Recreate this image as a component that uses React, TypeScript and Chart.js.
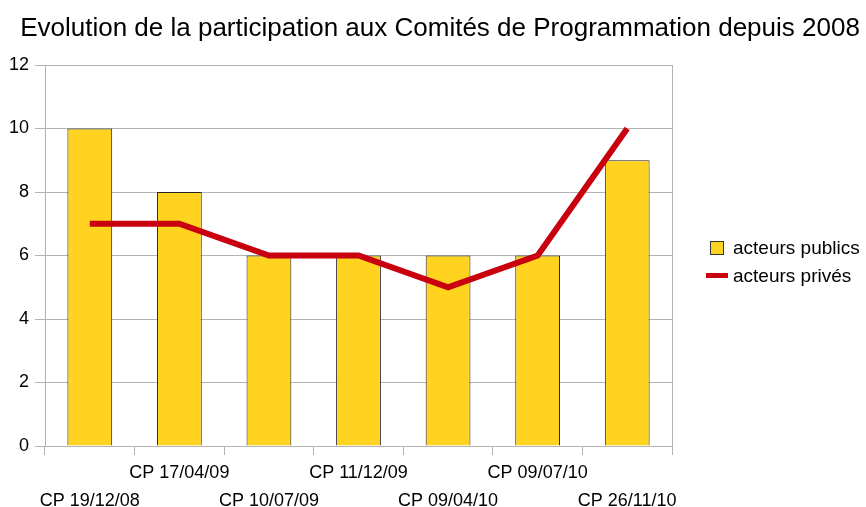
import React, { useEffect, useRef } from "react";
import { Chart, registerables } from "chart.js";

Chart.register(...registerables);

const TITLE = "Evolution de la participation aux Comités de Programmation depuis 2008";
const categories = ["CP 19/12/08", "CP 17/04/09", "CP 10/07/09", "CP 11/12/09", "CP 09/04/10", "CP 09/07/10", "CP 26/11/10"];
const publicValues = [10, 8, 6, 6, 6, 6, 9];
const privateValues = [7, 7, 6, 6, 5, 6, 10];
const publicLabel = "acteurs publics";
const privateLabel = "acteurs privés";

const FONT = "'Liberation Sans', Arial, sans-serif";
const YELLOW = "#ffd320";
const RED = "#c9000e";
const GRID = "#b3b3b3";

const staggered = categories.map((c, i) => (i % 2 === 0 ? ["", c] : [c, ""]));

const decorPlugin = {
  id: "decor",
  afterDraw(chart: any) {
    const ctx = chart.ctx;
    const area = chart.chartArea;
    ctx.save();
    // title
    ctx.fillStyle = "#000";
    ctx.font = "26px " + FONT;
    ctx.textAlign = "center";
    ctx.textBaseline = "alphabetic";
    ctx.fillText(TITLE, 440, 36);
    // right border
    ctx.strokeStyle = GRID;
    ctx.lineWidth = 1;
    ctx.beginPath();
    ctx.moveTo(Math.round(area.right) + 0.5, area.top);
    ctx.lineTo(Math.round(area.right) + 0.5, area.bottom);
    ctx.stroke();
    // legend
    ctx.fillStyle = YELLOW;
    ctx.fillRect(710, 241, 14, 14);
    ctx.strokeStyle = "#333333";
    ctx.strokeRect(710.5, 241.5, 13, 13);
    ctx.fillStyle = RED;
    ctx.fillRect(706, 273, 22, 5);
    ctx.fillStyle = "#000";
    ctx.font = "19px " + FONT;
    ctx.textBaseline = "middle";
    ctx.textAlign = "left";
    ctx.fillText(publicLabel, 733, 249);
    ctx.fillText(privateLabel, 733, 277);
    ctx.restore();
  },
};

export default function App() {
  const ref = useRef<HTMLCanvasElement>(null);
  useEffect(() => {
    document.body.style.margin = "0";
    const chart = new Chart(ref.current!, {
      type: "bar",
      data: {
        labels: staggered as any,
        datasets: [
          {
            type: "line" as const,
            label: privateLabel,
            data: privateValues,
            borderColor: RED,
            backgroundColor: RED,
            borderWidth: 6,
            pointRadius: 0,
            tension: 0,
            order: 0,
          },
          {
            type: "bar" as const,
            label: publicLabel,
            data: publicValues,
            backgroundColor: YELLOW,
            borderColor: "#222222",
            borderWidth: 1,
            categoryPercentage: 1,
            barPercentage: 0.5,
            order: 1,
          },
        ],
      },
      options: {
        animation: false,
        responsive: false,
        maintainAspectRatio: false,
        layout: { padding: { left: 0, right: 194, top: 65, bottom: 0 } },
        plugins: {
          legend: { display: false },
          tooltip: { enabled: false },
          title: { display: false },
        },
        scales: {
          x: {
            offset: true,
            grid: { offset: true, drawOnChartArea: false, color: GRID, tickLength: 9 },
            border: { color: GRID },
            ticks: {
              color: "#000",
              font: { family: FONT, size: 18, lineHeight: 1.556 },
              padding: 4,
              maxRotation: 0,
              autoSkip: false,
            },
            afterFit(scale: any) {
              scale.height = 61;
            },
          },
          y: {
            min: 0,
            max: 12,
            grid: { color: GRID, tickLength: 10 },
            border: { color: GRID },
            ticks: {
              stepSize: 2,
              color: "#000",
              font: { family: FONT, size: 18 },
              padding: 6,
            },
            afterFit(scale: any) {
              scale.width = 45;
            },
          },
        },
      },
      plugins: [decorPlugin],
    });
    return () => chart.destroy();
  }, []);
  return (
    <div style={{ width: 866, height: 507 }}>
      <canvas ref={ref} width={866} height={507} />
    </div>
  );
}
